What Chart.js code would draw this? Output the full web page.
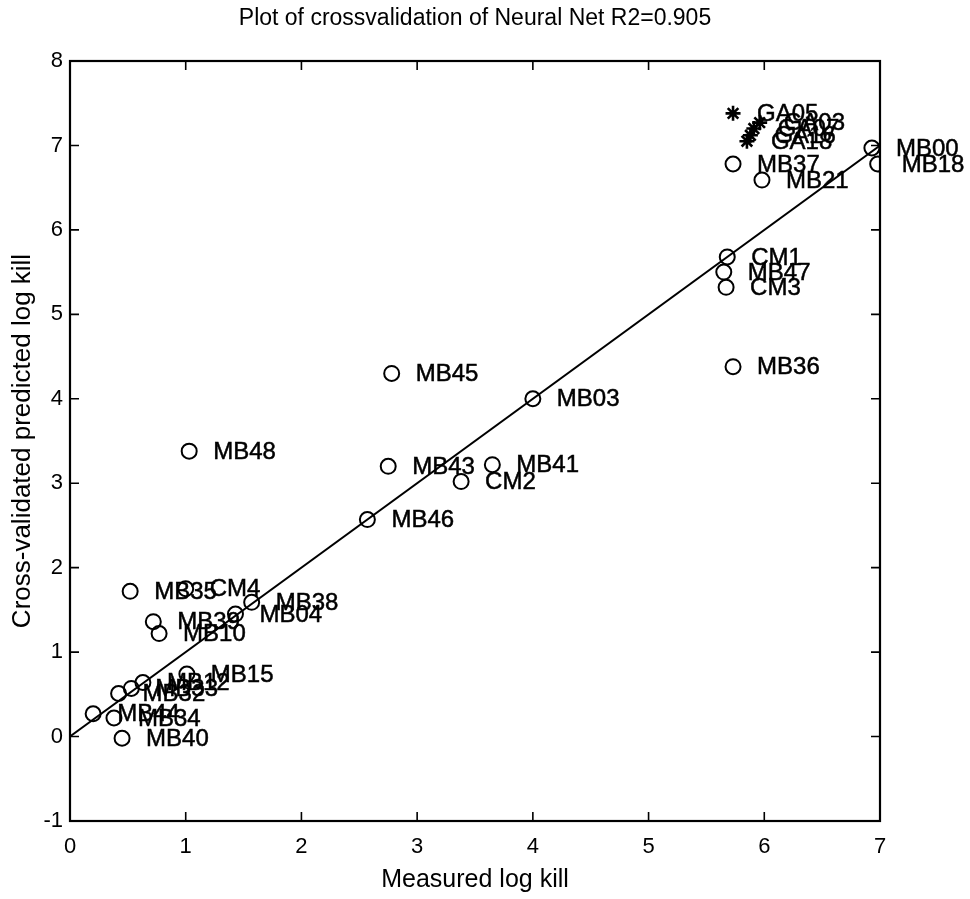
<!DOCTYPE html>
<html>
<head>
<meta charset="utf-8">
<script src="https://cdn.jsdelivr.net/npm/chart.js@4.4.1/dist/chart.umd.min.js"></script>
<style>
  html, body { margin: 0; padding: 0; background: #fff; }
  #wrap { width: 970px; height: 899px; }
</style>
</head>
<body>
<div id="wrap"><canvas id="myChart" width="970" height="899"></canvas></div>
<script>
// measured vs cross-validated log kill
const circleLabels = ["MB00", "MB18", "MB37", "MB21", "CM1", "MB47", "CM3", "MB36",
    "MB45", "MB03", "MB48", "MB43", "MB41", "CM2", "MB46", "MB35", "CM4", "MB38",
    "MB04", "MB39", "MB10", "MB15", "MB12", "MB33", "MB32", "MB44", "MB34", "MB40"];
const circleX = [6.93, 6.98, 5.73, 5.98, 5.68, 5.65, 5.67, 5.73,
    2.78, 4.00, 1.03, 2.75, 3.65, 3.38, 2.57, 0.52, 1.00, 1.57,
    1.43, 0.72, 0.77, 1.01, 0.63, 0.53, 0.42, 0.20, 0.38, 0.45];
const circleY = [6.97, 6.78, 6.78, 6.59, 5.68, 5.50, 5.32, 4.38,
    4.30, 4.00, 3.38, 3.20, 3.22, 3.02, 2.57, 1.72, 1.75, 1.59,
    1.45, 1.36, 1.22, 0.74, 0.64, 0.57, 0.51, 0.27, 0.22, -0.02];

const starLabels = ["GA05", "GA03", "GA07", "GA16", "GA18"];
const starX = [5.73, 5.96, 5.91, 5.88, 5.85];
const starY = [7.38, 7.27, 7.20, 7.12, 7.05];

const fitX = [0, 7];
const fitY = [0, 7];

const xTicks = [0, 1, 2, 3, 4, 5, 6, 7];
const yTicks = [-1, 0, 1, 2, 3, 4, 5, 6, 7, 8];

const chartTitle = "Plot of crossvalidation of Neural Net R2=0.905";

const FONT = "'Liberation Sans', Arial, Helvetica, sans-serif";

function toPoints(xs, ys) {
    return xs.map(function (x, i) { return { x: x, y: ys[i] }; });
}

// title over the axes, point labels, box and inward ticks like the matlab figure
const matlabDecor = {
    id: "matlabDecor",
    afterDatasetsDraw: function (chart) {
        const ctx = chart.ctx;
        ctx.save();
        ctx.fillStyle = "#000";
        ctx.strokeStyle = "#000";
        ctx.lineWidth = 0.5;
        ctx.font = "24px " + FONT;
        ctx.textBaseline = "middle";
        ctx.textAlign = "left";
        [1, 2].forEach(function (di) {
            const meta = chart.getDatasetMeta(di);
            const labels = chart.data.datasets[di].pointLabels;
            meta.data.forEach(function (el, i) {
                ctx.fillText(labels[i], el.x + 24, el.y + 1);
                ctx.strokeText(labels[i], el.x + 24, el.y + 1);
            });
        });
        ctx.restore();
    },
    afterDraw: function (chart) {
        const ctx = chart.ctx;
        const a = chart.chartArea;
        const xs = chart.scales.x;
        const ys = chart.scales.y;
        ctx.save();
        ctx.fillStyle = "#000";
        ctx.font = "23px " + FONT;
        ctx.textAlign = "center";
        ctx.textBaseline = "middle";
        ctx.fillText(chartTitle, (a.left + a.right) / 2, 19);

        ctx.strokeStyle = "#000";
        ctx.lineWidth = 2.2;
        ctx.strokeRect(a.left, a.top, a.right - a.left, a.bottom - a.top);
        ctx.lineWidth = 1.6;
        ctx.beginPath();
        xTicks.forEach(function (t) {
            const px = xs.getPixelForValue(t);
            ctx.moveTo(px, a.bottom);
            ctx.lineTo(px, a.bottom - 9);
            ctx.moveTo(px, a.top);
            ctx.lineTo(px, a.top + 9);
        });
        yTicks.forEach(function (t) {
            const py = ys.getPixelForValue(t);
            ctx.moveTo(a.left, py);
            ctx.lineTo(a.left + 9, py);
            ctx.moveTo(a.right, py);
            ctx.lineTo(a.right - 9, py);
        });
        ctx.stroke();
        ctx.restore();
    },
};

document.addEventListener("DOMContentLoaded", function () {
    const ctx = document.getElementById("myChart").getContext("2d");
    new Chart(ctx, {
        type: "scatter",
        data: {
            datasets: [
                {
                    type: "line",
                    label: "fit",
                    data: toPoints(fitX, fitY),
                    borderColor: "#000",
                    borderWidth: 2,
                    pointRadius: 0,
                    fill: false,
                },
                {
                    label: "circles",
                    data: toPoints(circleX, circleY),
                    pointLabels: circleLabels,
                    pointStyle: "circle",
                    pointRadius: 7.5,
                    backgroundColor: "rgba(0,0,0,0)",
                    borderColor: "#000",
                    borderWidth: 2,
                },
                {
                    label: "stars",
                    data: toPoints(starX, starY),
                    pointLabels: starLabels,
                    pointStyle: "star",
                    pointRadius: 7.5,
                    borderColor: "#000",
                    borderWidth: 2.6,
                },
            ],
        },
        options: {
            responsive: false,
            animation: false,
            layout: { padding: { left: 0, right: 90, top: 61, bottom: 0 } },
            scales: {
                x: {
                    type: "linear",
                    min: 0,
                    max: 7,
                    afterFit: function (scale) { scale.height = 78; },
                    afterBuildTicks: function (scale) {
                        scale.ticks = xTicks.map(function (v) { return { value: v }; });
                    },
                    grid: { display: false, drawTicks: false },
                    border: { display: false },
                    ticks: {
                        color: "#000",
                        padding: 13,
                        font: { family: FONT, size: 22 },
                        maxRotation: 0,
                    },
                    title: {
                        display: true,
                        text: "Measured log kill",
                        color: "#000",
                        font: { family: FONT, size: 25 },
                        padding: { top: 0, bottom: 4 },
                    },
                },
                y: {
                    type: "linear",
                    min: -1,
                    max: 8,
                    afterFit: function (scale) { scale.width = 70; },
                    afterBuildTicks: function (scale) {
                        scale.ticks = yTicks.map(function (v) { return { value: v }; });
                    },
                    grid: { display: false, drawTicks: false },
                    border: { display: false },
                    ticks: {
                        color: "#000",
                        padding: 7,
                        font: { family: FONT, size: 22 },
                    },
                    title: {
                        display: true,
                        text: "Cross-validated predicted log kill",
                        color: "#000",
                        font: { family: FONT, size: 26 },
                        padding: { top: 7, bottom: 0 },
                    },
                },
            },
            plugins: {
                legend: { display: false },
                tooltip: { enabled: false },
                title: { display: false },
            },
        },
        plugins: [matlabDecor],
    });
});
</script>
</body>
</html>
